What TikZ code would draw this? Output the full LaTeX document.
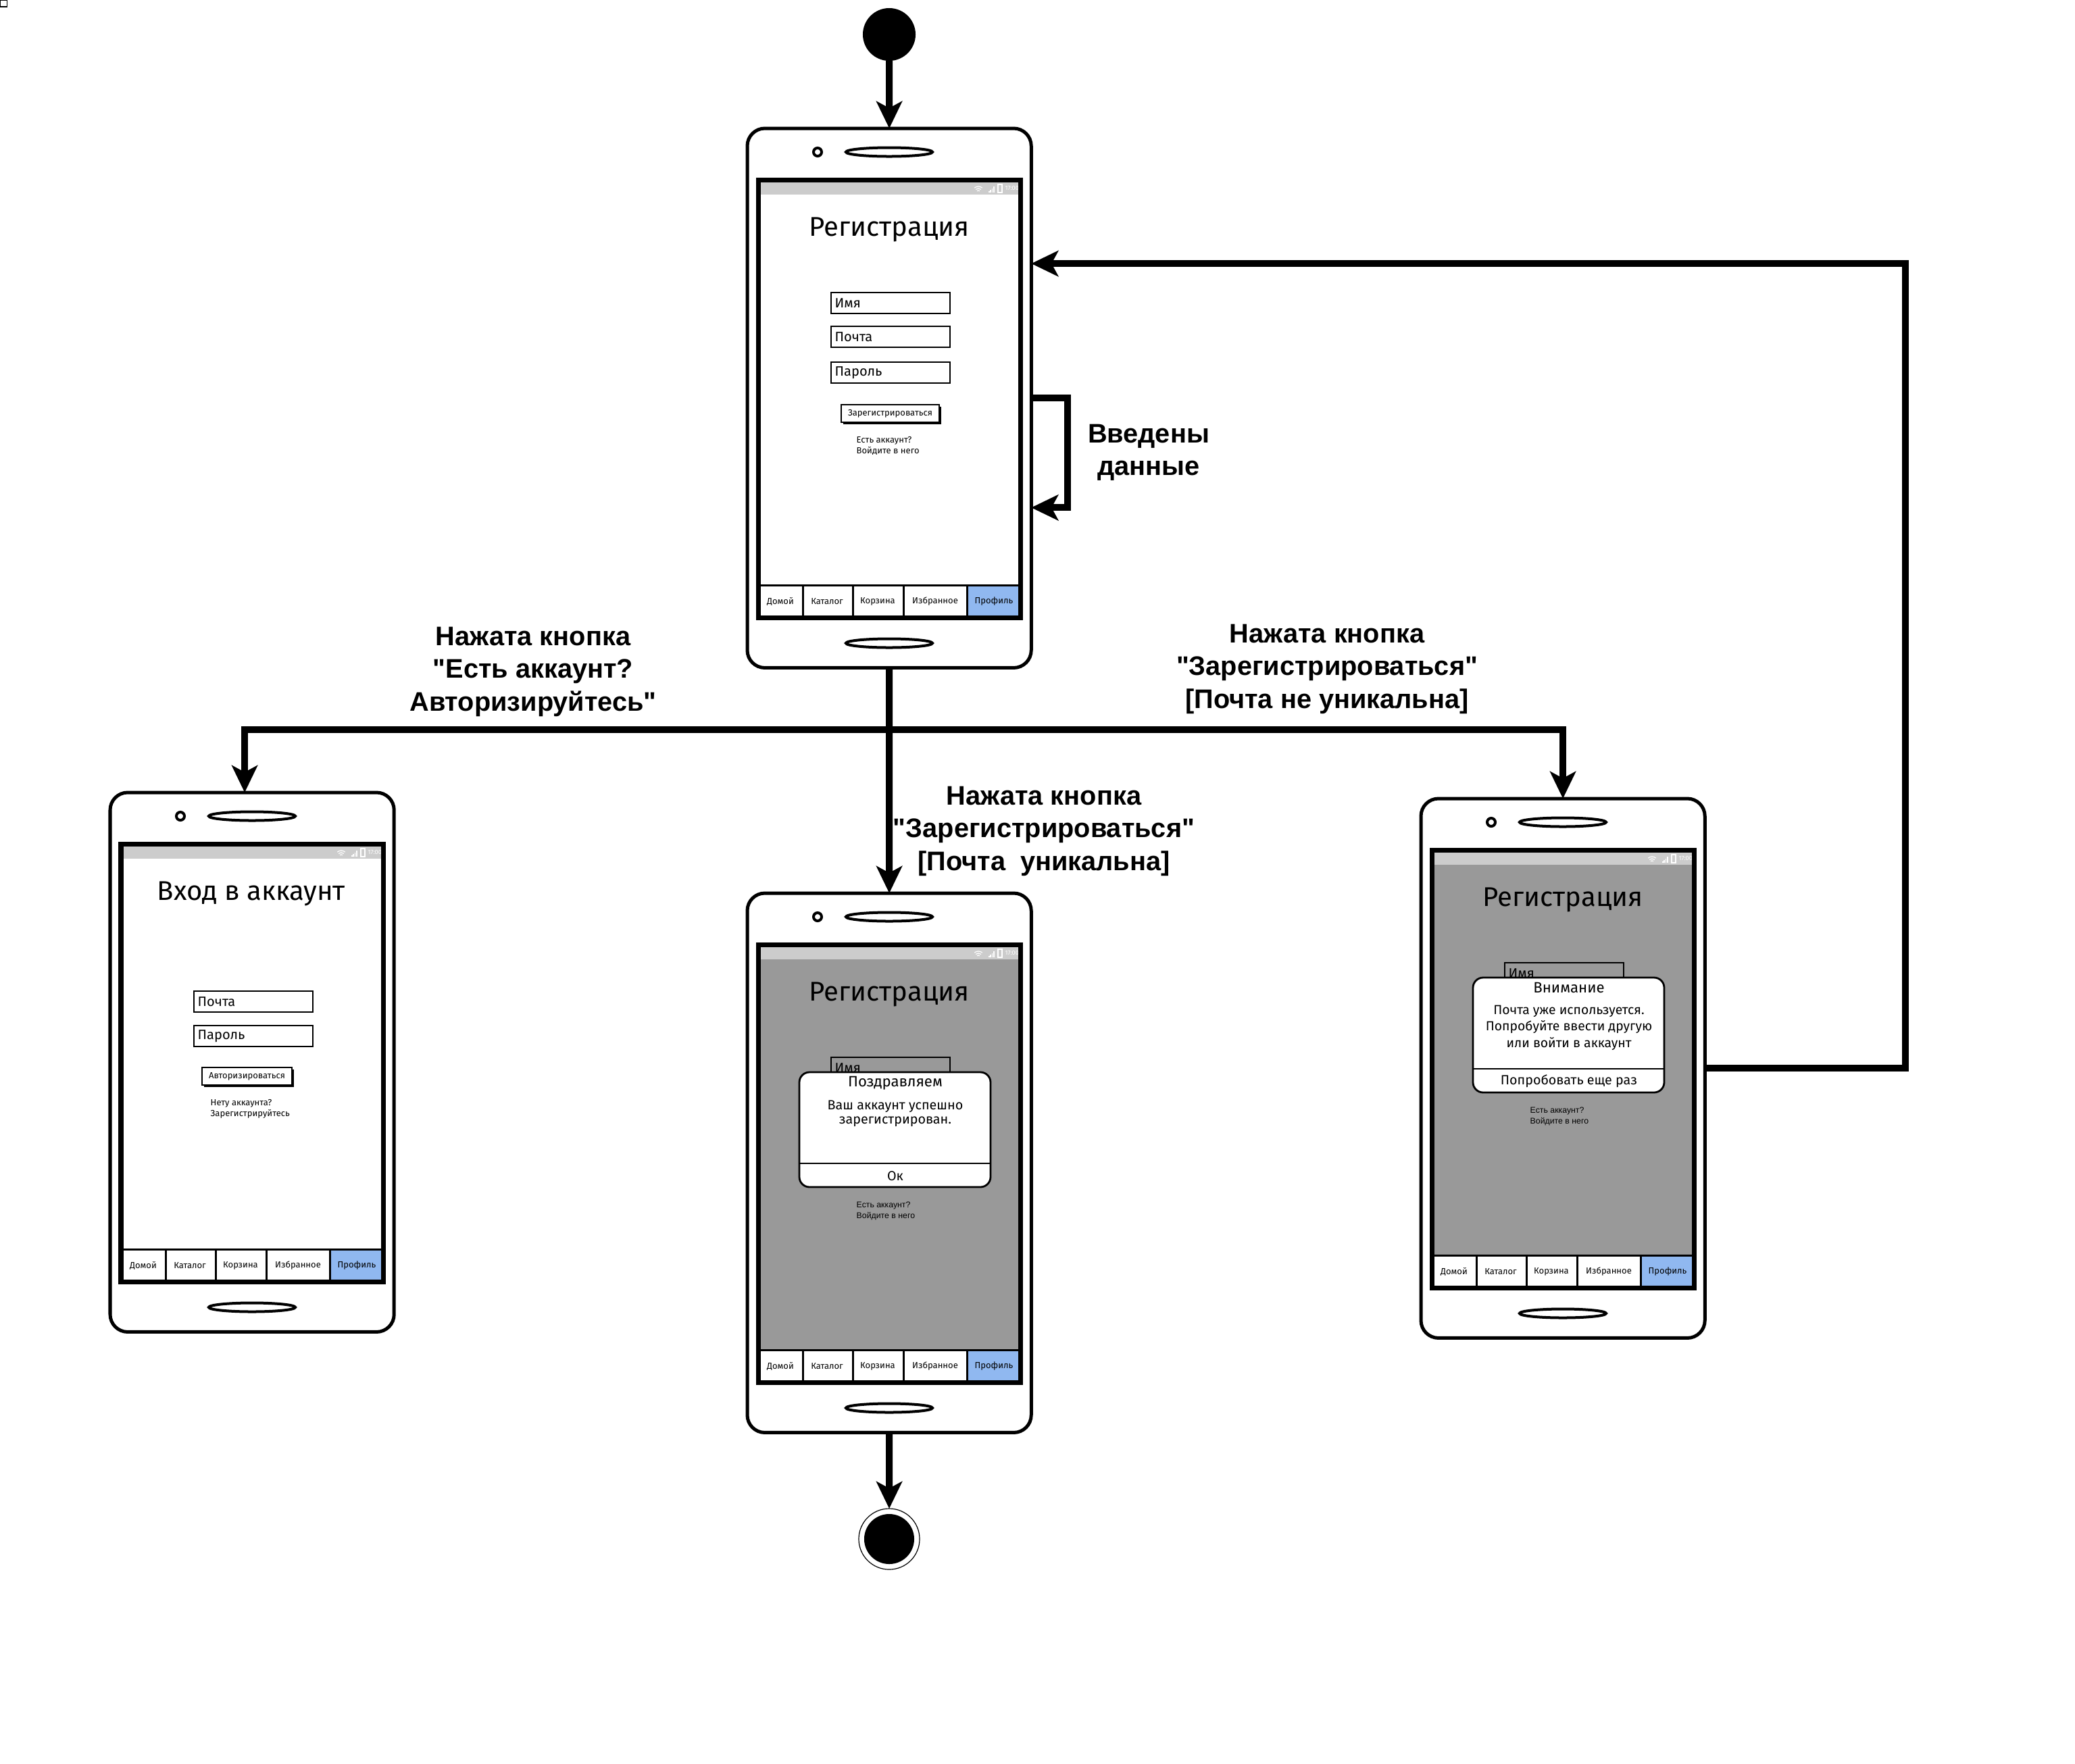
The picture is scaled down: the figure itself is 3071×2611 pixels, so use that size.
\documentclass[tikz,border=0pt]{standalone}
\usepackage{fontspec}
\setmainfont{Liberation Sans}[Ligatures=TeXOff]
\newfontfamily\uifont{Fira Sans}
\usetikzlibrary{arrows.meta}

\definecolor{barGray}{HTML}{CCCCCC}
\definecolor{dimGray}{HTML}{999999}
\definecolor{tabBlue}{HTML}{90B8F0}

\tikzset{
  conn/.style={line width=0.1cm, -{Stealth[length=0.4cm,width=0.38cm,inset=0.1cm]}},
  trunk/.style={line width=0.1cm},
  phone/.style={draw, fill=white, line width=0.05cm, rounded corners=0.26cm,
    minimum width=4.2cm, minimum height=7.98cm, inner sep=0pt, outer sep=0pt},
  startdot/.style={circle, fill=black, minimum size=0.78cm, inner sep=0pt, outer sep=0pt},
  enddot/.style={circle, draw, line width=0.012cm, fill=white, minimum size=0.9cm, inner sep=0pt, outer sep=0pt},
  lbl/.style={font=\bfseries\fontsize{11.3pt}{13.8pt}\selectfont, align=center},
  hw/.style={line width=0.04cm},
  scrframe/.style={line width=0.07cm},
  hair/.style={line width=0.03cm},
  ttl/.style={font=\uifont\fontsize{11.4pt}{13pt}\selectfont, inner sep=0pt},
  ftxt/.style={font=\uifont\fontsize{5.7pt}{6.8pt}\selectfont, anchor=west, inner sep=0pt},
  tiny/.style={font=\uifont\fontsize{3.7pt}{4.55pt}\selectfont, inner sep=0pt},
  dttl/.style={font=\uifont\fontsize{6.3pt}{7.5pt}\selectfont, inner sep=0pt},
  stat/.style={font=\uifont\fontsize{2.6pt}{3pt}\selectfont, text=white, inner sep=0pt},
}

% camera and speakers of a handset (local coordinates, px, y down)
\newcommand\phoneparts{%
  \draw[hw] (104,35) circle (0.06cm);
  \draw[hw] (210,35) ellipse (0.64cm and 0.065cm);
  \draw[hw] (210,762) ellipse (0.64cm and 0.065cm);
}
% status bar with wifi, signal, battery and clock
\newcommand\statusbar{%
  \fill[barGray] (16,78) rectangle (404,98);
  \foreach \r in {0.03,0.06,0.09}{\draw[white,line width=0.012cm] (342,95) ++(50:\r cm) arc[start angle=50,end angle=130,radius=\r cm];}
  \foreach \i/\h in {0/2,1/4,2/6,3/9}{\fill[white] (357+2.4*\i,95) rectangle ++(1.5,-\h);}
  \draw[white,line width=0.012cm] (371,83) rectangle (377,95);
  \node[stat, anchor=west] (\pp-clock) at (381,88.5) {17:00};
}
% bottom navigation
\newcommand\tabbar{%
  \fill[white] (16,676) rectangle (404,724);
  \fill[tabBlue] (325,676) rectangle (404,724);
  \draw[hair] (16,676) -- (404,676);
  \foreach \x in {82,156,231,325}{\draw[hair] (\x,676) -- (\x,724);}
  \node[tiny] (\pp-t1) at (49,700) {Домой};
  \node[tiny] (\pp-t2) at (118,700) {Каталог};
  \node[tiny] (\pp-t3) at (193,700) {Корзина};
  \node[tiny] (\pp-t4) at (278,700) {Избранное};
  \node[tiny] (\pp-t5) at (365,700) {Профиль};
}
\newcommand\screenframe{\draw[scrframe] (16,76) rectangle (404,724);}
% input field: top y, fill, caption, name
\newcommand\field[4]{%
  \draw[line width=0.028cm, fill=#2] (124,#1) rectangle (300,#1+31);
  \node[ftxt] (\pp-#4) at (129,#1+15.5) {#3};
}
% sketch button: x0, y0, x1, y1, caption
\newcommand\sketchbtn[5]{%
  \draw[line width=0.025cm, fill=white] (#1,#2) rectangle (#3,#4);
  \draw[line width=0.04cm] (#3+1,#2+3) -- (#3+1,#4+1) -- (#1+3,#4+1);
  \node[tiny] (\pp-btn) at ({(#1+#3)/2},{(#2+#4)/2}) {#5};
}
% message box
\newcommand\dialogbox{%
  \draw[line width=0.028cm, fill=white, rounded corners=0.15cm] (77,265) rectangle (360,435);
  \draw[line width=0.028cm] (77,400) -- (360,400);
}

\begin{document}
\begin{tikzpicture}[x=0.01cm, y=-0.01cm]
\useasboundingbox (0,0) rectangle (3071,2611);
\fill[white] (0,0) rectangle (3071,2611);
\draw[line width=0.012cm] (0.6,0.6) rectangle (10.5,10);

% states
\node[startdot] (start) at (1316,51) {};
\node[phone, anchor=north west] (p1) at (1106,190) {};
\node[phone, anchor=north west] (p2) at (163,1173) {};
\node[phone, anchor=north west] (p3) at (1106,1322) {};
\node[phone, anchor=north west] (p4) at (2103,1182) {};
\node[enddot] (end) at (1316,2278) {};
\fill (end) circle (0.37cm);

% registration screen
\begin{scope}[shift={(1106,190)}]
  \def\pp{p1}
  \phoneparts
  \statusbar
  \node[ttl] (p1-title) at (210,150) {Регистрация};
  \field{243}{white}{Имя}{f1}
  \field{293}{white}{Почта}{f2}
  \field{346}{white}{Пароль}{f3}
  \sketchbtn{139}{409}{284}{435}{Зарегистрироваться}
  \node[tiny, align=left, anchor=west] (p1-link) at (161,470) {Есть аккаунт?\\Войдите в него};
  \tabbar
  \screenframe
\end{scope}

% login screen
\begin{scope}[shift={(163,1173)}]
  \def\pp{p2}
  \phoneparts
  \statusbar
  \node[ttl] (p2-title) at (209,150) {Вход в аккаунт};
  \field{294}{white}{Почта}{f1}
  \field{345}{white}{Пароль}{f2}
  \sketchbtn{136}{407}{269}{433}{Авторизироваться}
  \node[tiny, align=left, anchor=west] (p2-link) at (148,468) {Нету аккаунта?\\Зарегистрируйтесь};
  \tabbar
  \screenframe
\end{scope}

% registration succeeded
\begin{scope}[shift={(1106,1322)}]
  \def\pp{p3}
  \phoneparts
  \statusbar
  \fill[dimGray] (16,98) rectangle (404,676);
  \node[ttl] (p3-title) at (210,150) {Регистрация};
  \field{243}{none}{Имя}{f1}
  \node[font=\fontsize{3.5pt}{4.55pt}\selectfont, inner sep=0pt, align=left, anchor=west] (p3-link) at (161,470) {Есть аккаунт?\\Войдите в него};
  \dialogbox
  \node[dttl] (p3-dt) at (219,281) {Поздравляем};
  \node[font=\uifont\fontsize{5.6pt}{6pt}\selectfont, inner sep=0pt, align=center] (p3-msg) at (219,326) {Ваш аккаунт успешно\\зарегистрирован.};
  \node[font=\uifont\fontsize{5.6pt}{6.8pt}\selectfont, inner sep=0pt] (p3-ok) at (219,419) {Ок};
  \tabbar
  \screenframe
\end{scope}

% e-mail already taken
\begin{scope}[shift={(2103,1182)}]
  \def\pp{p4}
  \phoneparts
  \statusbar
  \fill[dimGray] (16,98) rectangle (404,676);
  \node[ttl] (p4-title) at (210,150) {Регистрация};
  \field{243}{none}{Имя}{f1}
  \node[font=\fontsize{3.5pt}{4.55pt}\selectfont, inner sep=0pt, align=left, anchor=west] (p4-link) at (161,470) {Есть аккаунт?\\Войдите в него};
  \dialogbox
  \node[dttl] (p4-dt) at (219,280) {Внимание};
  \node[font=\uifont\fontsize{5.5pt}{7pt}\selectfont, inner sep=0pt, align=center] (p4-msg) at (219,339) {Почта уже используется.\\Попробуйте ввести другую\\или войти в аккаунт};
  \node[font=\uifont\fontsize{5.6pt}{6.8pt}\selectfont, inner sep=0pt] (p4-ok) at (219,418) {Попробовать еще раз};
  \tabbar
  \screenframe
\end{scope}

% transitions
\coordinate (fork) at (1316,1080);
\draw[conn] (start.south) -- (p1.north);
\draw[trunk] (p1.south) -- (fork);
\draw[conn] (fork) -| ([xshift=-0.11cm]p2.north);
\draw[conn] (fork) -| (p4.north);
\draw[conn] (fork) -- (p3.north);
\draw[conn] (p1.east) -- ++(54,0) |- ([yshift=-1.62cm]p1.east);
\draw[conn] (p4.east) -- ++(297,0) |- ([yshift=1.99cm]p1.east);
\draw[conn] (p3.south) -- (end);

% transition labels
\node[lbl] (l-login) at (789,994) {Нажата кнопка\\"Есть аккаунт?\\Авторизируйтесь"};
\node[lbl] (l-taken) at (1964,990) {Нажата кнопка\\"Зарегистрироваться"\\{[}Почта не уникальна{]}};
\node[lbl] (l-ok) at (1545,1230) {Нажата кнопка\\"Зарегистрироваться"\\{[}Почта\ \ уникальна{]}};
\node[lbl] (l-input) at (1700,670) {Введены\\данные};
\end{tikzpicture}
\end{document}
